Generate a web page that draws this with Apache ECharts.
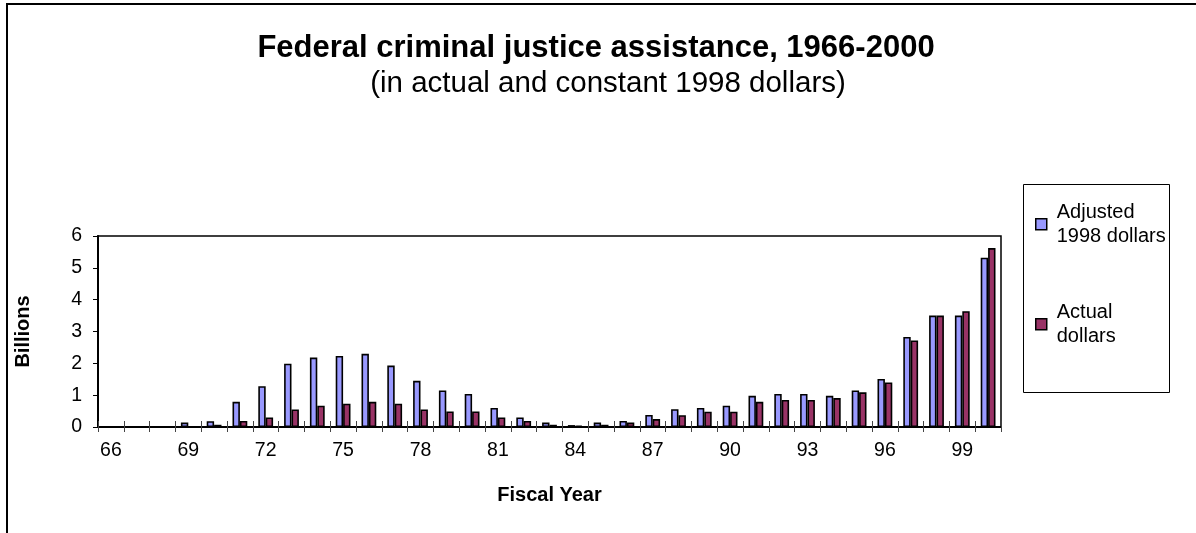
<!DOCTYPE html>
<html>
<head>
<meta charset="utf-8">
<script src="https://cdn.jsdelivr.net/npm/echarts@6/dist/echarts.min.js"></script>
<style>
  html, body { margin: 0; padding: 0; background: #fff; }
  #chart { width: 1196px; height: 533px; }
</style>
</head>
<body>
<div id="chart"></div>
<script>
// Fiscal years 1966-2000
const years = ['66','67','68','69','70','71','72','73','74','75','76','77','78','79','80','81','82','83','84','85','86','87','88','89','90','91','92','93','94','95','96','97','98','99','00'];

// Billions of dollars
const adjusted1998 = [0, 0, 0, 0.14, 0.18, 0.79, 1.28, 1.99, 2.18, 2.23, 2.30, 1.93, 1.45, 1.15, 1.04, 0.60, 0.30, 0.14, 0.06, 0.14, 0.19, 0.38, 0.56, 0.60, 0.67, 0.98, 1.04, 1.04, 0.98, 1.15, 1.51, 2.83, 3.50, 3.50, 5.32];
const actualDollars = [0, 0, 0, 0, 0.07, 0.19, 0.30, 0.55, 0.67, 0.73, 0.79, 0.73, 0.55, 0.49, 0.49, 0.30, 0.19, 0.07, 0.05, 0.07, 0.14, 0.25, 0.37, 0.48, 0.48, 0.79, 0.85, 0.85, 0.91, 1.09, 1.40, 2.72, 3.50, 3.64, 5.62];

const yTicks = { min: 0, max: 6, step: 1 };

const FONT = '"Liberation Sans", Arial, sans-serif';
const plot = { left: 98, top: 236, right: 1001, bottom: 427 };
const W = 1196, H = 533;

const chart = echarts.init(document.getElementById('chart'), null, { renderer: 'canvas' });

const barBase = {
  type: 'bar',
  barWidth: 7.4,
  barGap: '0%'
};

chart.setOption({
  animation: false,
  backgroundColor: '#fff',
  textStyle: { fontFamily: FONT, color: '#000' },
  title: [
    {
      text: 'Federal criminal justice assistance, 1966-2000',
      left: 596, top: 33, padding: 0, textAlign: 'center',
      textStyle: { fontFamily: FONT, fontSize: 31, fontWeight: 'bold', color: '#000' }
    },
    {
      text: '(in actual and constant 1998 dollars)',
      left: 608, top: 69, padding: 0, textAlign: 'center',
      textStyle: { fontFamily: FONT, fontSize: 29.5, fontWeight: 'normal', color: '#000' }
    }
  ],
  legend: {
    orient: 'vertical',
    left: 1035, top: 192,
    padding: 0,
    itemGap: 35.5,
    itemWidth: 11, itemHeight: 11,
    icon: 'rect',
    selectedMode: false,
    itemStyle: { borderColor: '#000', borderWidth: 1.5 },
    formatter: name => name.replace(' ', '\n'),
    textStyle: { fontFamily: FONT, fontSize: 20, lineHeight: 23.5, color: '#000', padding: [17.5, 0, 0, 5] },
    data: ['Adjusted 1998 dollars', 'Actual dollars']
  },
  graphic: [
    { type: 'rect', silent: true, z: -1,
      shape: { x: 1023.5, y: 184.5, width: 146, height: 208 },
      style: { fill: 'none', stroke: '#000', lineWidth: 1 } },
    { type: 'rect', silent: true, z: -1,
      shape: { x: 7, y: 4, width: W + 50, height: H + 50 },
      style: { fill: 'none', stroke: '#000', lineWidth: 2 } }
  ],
  grid: {
    left: plot.left, top: plot.top,
    width: plot.right - plot.left, height: plot.bottom - plot.top,
    show: true, borderColor: '#000', borderWidth: 1.5, backgroundColor: 'transparent'
  },
  xAxis: [
    {
      type: 'category', data: years, position: 'bottom',
      name: 'Fiscal Year', nameLocation: 'middle', nameGap: 58,
      nameTextStyle: { fontFamily: FONT, fontSize: 20, fontWeight: 'bold', color: '#000' },
      axisLine: { onZero: false, lineStyle: { color: '#000', width: 2 } },
      axisTick: { show: true, interval: 0, length: 5, lineStyle: { color: '#444', width: 1 } },
      axisLabel: { interval: 2, margin: 14, fontFamily: FONT, fontSize: 19.5, color: '#000' },
      splitLine: { show: false }
    },
    {
      // upward half of the crossing tick marks along the bottom edge
      type: 'category', data: years, position: 'top',
      offset: -(plot.bottom - plot.top),
      axisLine: { show: false, onZero: false },
      axisTick: { show: true, interval: 0, length: 6, lineStyle: { color: '#444', width: 1 } },
      axisLabel: { show: false },
      splitLine: { show: false }
    }
  ],
  yAxis: {
    type: 'value', min: yTicks.min, max: yTicks.max, interval: yTicks.step,
    name: 'Billions', nameLocation: 'middle', nameGap: 65, nameRotate: 90,
    nameTextStyle: { fontFamily: FONT, fontSize: 20, fontWeight: 'bold', color: '#000' },
    axisLine: { show: true, lineStyle: { color: '#000', width: 2 } },
    axisTick: { show: true, length: 5, lineStyle: { color: '#000', width: 1 } },
    axisLabel: { margin: 16, fontFamily: FONT, fontSize: 19.5, color: '#000' },
    splitLine: { show: false }
  },
  series: [
    Object.assign({}, barBase, {
      name: 'Adjusted 1998 dollars', data: adjusted1998,
      itemStyle: { color: '#9999FF', borderColor: '#000', borderWidth: 1.6 }
    }),
    Object.assign({}, barBase, {
      name: 'Actual dollars', data: actualDollars,
      itemStyle: { color: '#993366', borderColor: '#000', borderWidth: 1.6 }
    })
  ]
});
</script>
</body>
</html>
